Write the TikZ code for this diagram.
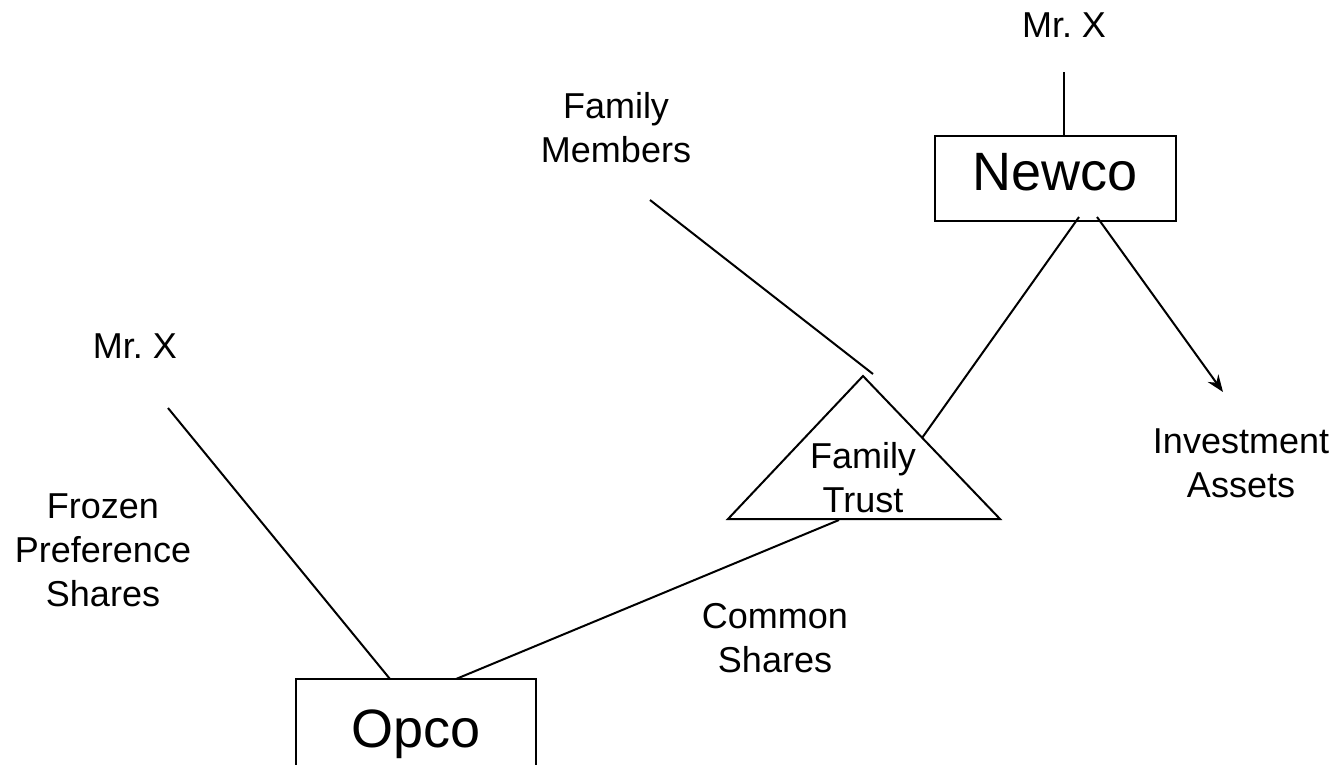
\documentclass[tikz,border=0pt]{standalone}
\usepackage{fontspec}
\setmainfont{Liberation Sans}
\usetikzlibrary{arrows.meta}
\begin{document}
\begin{tikzpicture}[x=1pt,y=-1pt,
  txt/.style={font=\fontsize{36}{44}\selectfont, align=center, anchor=base, inner sep=0pt},
  bigtxt/.style={font=\fontsize{54}{60}\selectfont, anchor=base, inner sep=0pt},
  rectbox/.style={draw, line width=2pt, inner sep=0pt},
  conn/.style={line width=2pt},
  arr/.style={line width=2pt, -{Stealth[length=17pt,width=13pt]}}]
\useasboundingbox (0,0) rectangle (1340,764);
\clip (0,0) rectangle (1340,764);
% texts (anchor = baseline of last line)
\node[txt] (mrxtop) at (1064,37) {Mr.\ X};
\node[txt] (fam) at (616,162) {Family\\Members};
\node[txt] (mrxleft) at (135,358) {Mr.\ X};
\node[txt] (frozen) at (103,606) {Frozen\\Preference\\Shares};
\node[txt] (common) at (775,672) {Common\\Shares};
\node[txt] (invest) at (1241,497) {Investment\\Assets};
% boxes
\node[rectbox, minimum width=241pt, minimum height=85pt] (newco) at (1055.5,178.5) {};
\node[bigtxt] (newcotxt) at (1055.5,190) {Newco};
\node[rectbox, minimum width=240pt, minimum height=95pt] (opco) at (416,726.5) {};
\node[bigtxt] (opcotxt) at (416,747) {Opco};
% triangle
\coordinate (tA) at (863,376);
\coordinate (tL) at (728,519);
\coordinate (tR) at (1000,519);
\draw[conn, line join=miter] (tA) -- (tL) -- (tR) -- cycle;
\node[txt] (trust) at (863,512) {Family\\Trust};
% connector end points
\coordinate (mxt) at (1064,72);
\coordinate (nt) at (1064,136);
\coordinate (fm1) at (650,200);
\coordinate (fm2) at (873,374);
\coordinate (nb1) at (1079,217);
\coordinate (tr1) at (922,438);
\coordinate (nb2) at (1097,217);
\coordinate (ia) at (1223,392);
\coordinate (mxl) at (168,408);
\coordinate (op1) at (390,679);
\coordinate (tb) at (839,520);
\coordinate (op2) at (456,679);
\draw[conn] (mxt) -- (nt);
\draw[conn] (fm1) -- (fm2);
\draw[conn] (nb1) -- (tr1);
\draw[arr] (nb2) -- (ia);
\draw[conn] (mxl) -- (op1);
\draw[conn] (tb) -- (op2);
\end{tikzpicture}
\end{document}
